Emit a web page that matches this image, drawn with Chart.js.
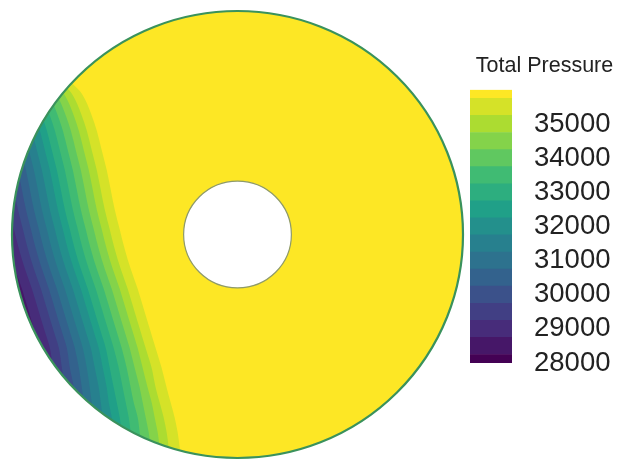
<!DOCTYPE html>
<html>
<head>
<meta charset="utf-8">
<script src="https://cdn.jsdelivr.net/npm/chart.js@4/dist/chart.umd.min.js"></script>
<style>
  html, body { margin: 0; padding: 0; background: #fff; overflow: hidden; }
  #wrap { position: relative; width: 619px; height: 461px; }
  #disk { position: absolute; left: 0; top: 0; }
  #bar { position: absolute; left: 460px; top: 0; }
</style>
</head>
<body>
<div id="wrap">
  <canvas id="disk" width="470" height="461"></canvas>
  <canvas id="bar" width="159" height="461"></canvas>
</div>
<script>
// Annulus geometry (same units as the contour coordinates)
const DISK_RADIUS = 226;
const HOLE_RADIUS = 54;

// Colour-bar band edges (bands are centred on multiples of 500) and labelled ticks
const bandEdges = [28000, 28250, 28750, 29250, 29750, 30250, 30750, 31250, 31750,
                   32250, 32750, 33250, 33750, 34250, 34750, 35250, 35750, 36000];
const tickValues = [28000, 29000, 30000, 31000, 32000, 33000, 34000, 35000];

// Contour levels drawn inside the annulus
const contourLevels = [28750, 29250, 29750, 30250, 30750, 31250, 31750, 32250,
                       32750, 33250, 33750, 34250, 34750, 35250, 35750];

// Vertical stations (top to bottom) at which each contour's x position is sampled
const rowsY = [165, 155, 145, 135, 120, 105, 85, 65, 45, 25, 5, -15, -35, -55, -75,
               -95, -115, -135, -155, -170, -185, -200, -215, -225];

// x position of each iso-pressure line at the stations above
const x35750 = [-178, -168, -158, -152, -146, -141, -136, -131, -127, -123, -118, -113, -107, -100, -94, -88, -82, -76, -71, -67, -63, -60, -58, -57];
const x35250 = [-188, -178, -168, -162, -156, -151, -146, -141, -137, -133, -128, -123, -117, -110, -104, -98, -92, -86, -82, -78, -74, -71, -69, -68];
const x34750 = [-196, -186, -176, -170, -164, -159, -154, -149, -145, -141, -136, -131, -125, -118, -112, -106, -100, -95, -90, -86, -83, -80, -78, -77];
const x34250 = [-204, -194, -184, -178, -172, -167, -162, -157, -153, -149, -144, -139, -133, -126, -120, -114, -108, -103, -98, -95, -92, -89, -87, -86];
const x33750 = [-212, -202, -192, -186, -180, -175, -170, -165, -161, -157, -152, -147, -141, -134, -128, -122, -116, -111, -107, -104, -100, -98, -96, -95];
const x33250 = [-220, -210, -200, -194, -188, -183, -178, -173, -169, -165, -160, -155, -149, -142, -136, -130, -124, -119, -115, -112, -109, -107, -105, -104];
const x32750 = [-228, -218, -208, -202, -196, -191, -186, -181, -177, -173, -168, -163, -157, -150, -144, -138, -132, -128, -124, -121, -118, -116, -114, -113];
const x32250 = [-235, -225, -215, -209, -203, -198, -193, -188, -184, -180, -175, -170, -164, -157, -151, -145, -139, -135, -131, -129, -126, -124, -122, -121];
const x31750 = [-243, -233, -223, -217, -211, -206, -201, -196, -192, -188, -183, -178, -172, -165, -159, -153, -147, -143, -139, -137, -135, -133, -131, -130];
const x31250 = [-251, -241, -231, -225, -219, -214, -209, -204, -200, -196, -191, -186, -180, -173, -167, -161, -155, -151, -148, -146, -143, -142, -140, -139];
const x30750 = [-259, -249, -239, -233, -227, -222, -217, -212, -208, -204, -199, -194, -188, -181, -175, -169, -163, -159, -156, -154, -152, -151, -149, -148];
const x30250 = [-267, -257, -247, -241, -235, -230, -225, -220, -216, -212, -207, -202, -196, -189, -183, -177, -171, -168, -164, -163, -161, -160, -158, -157];
const x29750 = [-275, -265, -255, -249, -243, -238, -233, -228, -224, -220, -215, -210, -204, -197, -191, -185, -179, -176, -173, -172, -170, -169, -167, -166];
const x29250 = [-284, -274, -264, -258, -252, -247, -242, -237, -233, -229, -224, -219, -213, -206, -200, -194, -188, -185, -182, -181, -180, -179, -177, -176];
const x28750 = [-294, -284, -274, -268, -262, -257, -252, -247, -243, -239, -234, -229, -223, -216, -210, -204, -198, -195, -193, -192, -191, -190, -188, -187];

const contourX = [x28750, x29250, x29750, x30250, x30750, x31250, x31750, x32250,
                  x32750, x33250, x33750, x34250, x34750, x35250, x35750];

// Viridis colour map
const VIRIDIS = ['#440154', '#482878', '#3e4989', '#31688e', '#26828e',
                 '#1f9e89', '#35b779', '#6ece58', '#b5de2b', '#fde725'];
function hexRgb(h) { return [1, 3, 5].map(i => parseInt(h.substr(i, 2), 16)); }
function viridis(t) {
  const s = Math.max(0, Math.min(1, t)) * (VIRIDIS.length - 1);
  const i = Math.min(Math.floor(s), VIRIDIS.length - 2);
  const f = s - i;
  const a = hexRgb(VIRIDIS[i]), b = hexRgb(VIRIDIS[i + 1]);
  const c = a.map((v, k) => Math.round(v + (b[k] - v) * f));
  return `rgb(${c[0]},${c[1]},${c[2]})`;
}
const bandCount = bandEdges.length - 1;
const bandColors = Array.from({ length: bandCount }, (_, i) => viridis(i / (bandCount - 1)));

const FONT = "'Liberation Sans', Arial, Helvetica, sans-serif";

// ---------- annulus contour plot ----------
// Lower-pressure regions sit on top: dataset 0 is painted last.
const diskDatasets = contourLevels.map((level, k) => ({
  label: String(level),
  data: rowsY.map((y, i) => ({ x: contourX[k][i], y })),
  backgroundColor: bandColors[bandEdges.indexOf(level) - 1],
  fill: { value: -2 * DISK_RADIUS },
  borderWidth: 0,
  pointRadius: 0,
  cubicInterpolationMode: 'monotone'
}));
// Highest band covers the whole domain underneath everything else
diskDatasets.push({
  label: 'base',
  data: [{ x: DISK_RADIUS, y: DISK_RADIUS }, { x: DISK_RADIUS, y: -DISK_RADIUS }],
  backgroundColor: bandColors[bandCount - 1],
  fill: { value: -2 * DISK_RADIUS },
  borderWidth: 0,
  pointRadius: 0
});

function ringGeometry(chart, r) {
  const { x, y } = chart.scales;
  const cx = x.getPixelForValue(0), cy = y.getPixelForValue(0);
  return { cx, cy, rx: x.getPixelForValue(r) - cx, ry: cy - y.getPixelForValue(r) };
}

const annulusPlugin = {
  id: 'annulus',
  beforeDatasetsDraw(chart) {
    const { ctx } = chart;
    const g = ringGeometry(chart, DISK_RADIUS);
    ctx.save();
    ctx.beginPath();
    ctx.ellipse(g.cx, g.cy, g.rx, g.ry, 0, 0, Math.PI * 2);
    ctx.clip();
  },
  afterDatasetsDraw(chart) {
    const { ctx } = chart;
    ctx.restore();
    const outer = ringGeometry(chart, DISK_RADIUS);
    const inner = ringGeometry(chart, HOLE_RADIUS);
    ctx.save();
    ctx.beginPath();
    ctx.ellipse(inner.cx, inner.cy, inner.rx, inner.ry, 0, 0, Math.PI * 2);
    ctx.fillStyle = '#ffffff';
    ctx.fill();
    ctx.lineWidth = 1.2;
    ctx.strokeStyle = '#8e9a6a';
    ctx.stroke();
    ctx.beginPath();
    ctx.ellipse(outer.cx, outer.cy, outer.rx, outer.ry, 0, 0, Math.PI * 2);
    ctx.lineWidth = 2.2;
    ctx.strokeStyle = '#3a925c';
    ctx.stroke();
    ctx.restore();
  }
};

new Chart(document.getElementById('disk'), {
  type: 'line',
  data: { datasets: diskDatasets },
  options: {
    indexAxis: 'y',
    responsive: false,
    animation: false,
    events: [],
    layout: { padding: { left: 12, top: 11, right: 7, bottom: 3 } },
    scales: {
      x: { type: 'linear', min: -DISK_RADIUS, max: DISK_RADIUS, display: false },
      y: { type: 'linear', min: -DISK_RADIUS, max: DISK_RADIUS, display: false }
    },
    plugins: {
      legend: { display: false },
      tooltip: { enabled: false },
      title: { display: false }
    }
  },
  plugins: [annulusPlugin]
});

// ---------- colour bar ----------
new Chart(document.getElementById('bar'), {
  type: 'bar',
  data: {
    labels: [''],
    datasets: bandColors.map((c, i) => ({
      label: `${bandEdges[i]}-${bandEdges[i + 1]}`,
      data: [[bandEdges[i], bandEdges[i + 1]]],
      backgroundColor: c,
      borderWidth: 0,
      barPercentage: 1,
      categoryPercentage: 1,
      grouped: false
    }))
  },
  options: {
    responsive: false,
    animation: false,
    events: [],
    layout: { padding: { left: 10, top: 40, right: 0, bottom: 98 } },
    scales: {
      x: { display: false },
      y: {
        position: 'right',
        min: bandEdges[0],
        max: bandEdges[bandEdges.length - 1],
        grid: { display: false, drawTicks: false },
        border: { display: false },
        ticks: {
          padding: 22,
          color: '#222222',
          font: { family: FONT, size: 27.5 },
          callback: v => String(v)
        },
        afterBuildTicks: s => { s.ticks = tickValues.map(v => ({ value: v })); },
        afterFit: s => { s.width = 107; }
      }
    },
    plugins: {
      legend: { display: false },
      tooltip: { enabled: false },
      title: {
        display: true,
        text: 'Total Pressure',
        color: '#222222',
        font: { family: FONT, size: 21.5, weight: 'normal' },
        padding: { top: 13, bottom: 11 }
      }
    }
  }
});
</script>
</body>
</html>
